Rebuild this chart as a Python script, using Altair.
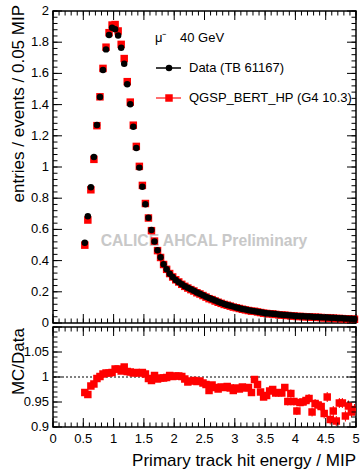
import altair as alt
import pandas as pd

# ---------------- data ----------------
bin_width = 0.05
first_center = 0.525

data_vals = [
    0.515, 0.684, 0.870, 1.064, 1.269, 1.449, 1.622, 1.754, 1.846, 1.893,
    1.883, 1.843, 1.765, 1.662, 1.530, 1.402, 1.258, 1.122, 0.996, 0.874,
    0.761, 0.675, 0.596, 0.523, 0.466, 0.421, 0.376, 0.344, 0.316, 0.295,
    0.276, 0.262, 0.248, 0.236, 0.226, 0.216, 0.206, 0.196, 0.187, 0.178,
    0.169, 0.160, 0.152, 0.144, 0.136, 0.129, 0.122, 0.116, 0.110, 0.105,
    0.100, 0.095, 0.090, 0.086, 0.082, 0.078, 0.075, 0.072, 0.069, 0.066,
    0.063, 0.061, 0.059, 0.057, 0.055, 0.053, 0.051, 0.050, 0.048, 0.047,
    0.045, 0.044, 0.043, 0.042, 0.041, 0.040, 0.039, 0.038, 0.037, 0.036,
    0.035, 0.034, 0.033, 0.032, 0.031, 0.030, 0.029, 0.028, 0.027, 0.026,
]

mc_vals = [
    0.499, 0.660, 0.854, 1.049, 1.265, 1.450, 1.632, 1.768, 1.861, 1.910,
    1.913, 1.872, 1.786, 1.695, 1.547, 1.416, 1.268, 1.132, 1.004, 0.882,
    0.766, 0.673, 0.592, 0.525, 0.464, 0.420, 0.375, 0.344, 0.317, 0.295,
    0.277, 0.263, 0.248, 0.235, 0.224, 0.214, 0.205, 0.194, 0.186, 0.176,
    0.166, 0.156, 0.150, 0.141, 0.133, 0.126, 0.119, 0.114, 0.108, 0.102,
    0.098, 0.093, 0.088, 0.084, 0.080, 0.076, 0.075, 0.071, 0.067, 0.063,
    0.061, 0.059, 0.058, 0.055, 0.053, 0.051, 0.050, 0.048, 0.046, 0.045,
    0.042, 0.042, 0.041, 0.040, 0.039, 0.037, 0.037, 0.036, 0.035, 0.033,
    0.034, 0.031, 0.031, 0.029, 0.029, 0.028, 0.027, 0.026, 0.025, 0.024,
]

ratio_vals = [
    0.969, 0.965, 0.982, 0.986, 0.997, 1.001, 1.006, 1.008, 1.008, 1.009,
    1.016, 1.016, 1.012, 1.020, 1.011, 1.010, 1.008, 1.009, 1.008, 1.009,
    1.006, 0.997, 0.993, 1.003, 0.996, 0.998, 0.998, 0.999, 1.003, 1.001,
    1.002, 1.002, 1.001, 0.996, 0.990, 0.992, 0.993, 0.991, 0.992, 0.988,
    0.985, 0.973, 0.984, 0.979, 0.976, 0.980, 0.979, 0.981, 0.978, 0.973,
    0.978, 0.976, 0.980, 0.978, 0.979, 0.969, 0.995, 0.985, 0.970, 0.960,
    0.963, 0.972, 0.975, 0.968, 0.969, 0.968, 0.979, 0.951, 0.967, 0.951,
    0.932, 0.949, 0.950, 0.953, 0.957, 0.930, 0.947, 0.944, 0.941, 0.927,
    0.960, 0.915, 0.932, 0.912, 0.948, 0.948, 0.922, 0.942, 0.930, 0.935,
]

ratio_err = [
    0.002, 0.002, 0.002, 0.002, 0.002, 0.002, 0.002, 0.002, 0.002, 0.002,
    0.002, 0.002, 0.002, 0.002, 0.002, 0.002, 0.002, 0.002, 0.002, 0.002,
    0.003, 0.003, 0.003, 0.003, 0.003, 0.003, 0.003, 0.003, 0.003, 0.003,
    0.004, 0.004, 0.004, 0.004, 0.004, 0.004, 0.004, 0.004, 0.004, 0.004,
    0.005, 0.005, 0.005, 0.005, 0.005, 0.005, 0.005, 0.005, 0.005, 0.005,
    0.006, 0.006, 0.006, 0.006, 0.006, 0.006, 0.006, 0.006, 0.006, 0.006,
    0.007, 0.007, 0.007, 0.007, 0.007, 0.007, 0.007, 0.008, 0.008, 0.008,
    0.008, 0.008, 0.008, 0.009, 0.009, 0.009, 0.009, 0.009, 0.009, 0.010,
    0.010, 0.010, 0.010, 0.010, 0.010, 0.010, 0.011, 0.011, 0.011, 0.011,
]

centers = [round(first_center + bin_width * i, 3) for i in range(len(data_vals))]

# tick / label values
x_labels = [0, 0.5, 1, 1.5, 2, 2.5, 3, 3.5, 4, 4.5, 5]
x_minor = [round(0.1 * i, 1) for i in range(51)]
y_top_labels = [0, 0.2, 0.4, 0.6, 0.8, 1, 1.2, 1.4, 1.6, 1.8, 2]
y_top_minor = [round(0.04 * i, 2) for i in range(51)]
y_bot_labels = [0.9, 0.95, 1, 1.05]
y_bot_major = [0.9, 0.95, 1, 1.05, 1.1]
y_bot_minor = [round(0.9 + 0.01 * i, 2) for i in range(21)]

# ---------------- layout ----------------
W, H1, H2 = 303, 312, 100
FONT = "Liberation Sans"
MAJ, MIN = 9, 4.5

df = pd.DataFrame({"x": centers, "data": data_vals, "mc": mc_vals,
                   "ratio": ratio_vals, "err": ratio_err})

xs = alt.Scale(domain=[0, 5], nice=False, zero=False)
ys1 = alt.Scale(domain=[0, 2], nice=False, zero=False)
ys2 = alt.Scale(domain=[0.9, 1.1], nice=False, zero=False)


def X(field):
    return alt.X(field, scale=xs, axis=None)


def Y(field, ys):
    return alt.Y(field, scale=ys, axis=None)


def x_ticks(vals, size, H):
    d = pd.DataFrame({"v": vals})
    base = alt.Chart(d).mark_rule(color="black", strokeWidth=1)
    bot = base.encode(x=X("v:Q"), y=alt.value(H), y2=alt.value(H - size))
    top = base.encode(x=X("v:Q"), y=alt.value(0), y2=alt.value(size))
    return [bot, top]


def y_ticks(vals, size, ys):
    d = pd.DataFrame({"v": vals})
    base = alt.Chart(d).mark_rule(color="black", strokeWidth=1)
    left = base.encode(y=Y("v:Q", ys), x=alt.value(0), x2=alt.value(size))
    right = base.encode(y=Y("v:Q", ys), x=alt.value(W), x2=alt.value(W - size))
    return [left, right]


def y_labels(vals, ys):
    d = pd.DataFrame({"v": vals, "t": [f"{v:g}" for v in vals]})
    return alt.Chart(d).mark_text(font=FONT, fontSize=13, color="black",
                                  align="right", baseline="middle").encode(
        y=Y("v:Q", ys), x=alt.value(-4), text="t:N")


def x_labels_layer(vals, H):
    d = pd.DataFrame({"v": vals, "t": [f"{v:g}" for v in vals]})
    return alt.Chart(d).mark_text(font=FONT, fontSize=13, color="black",
                                  align="center", baseline="top").encode(
        x=X("v:Q"), y=alt.value(H + 6), text="t:N")


one = pd.DataFrame({"k": [0]})


def txt(s, x, y, size=13, angle=0, align="left", color="black", weight="normal"):
    kw = dict(text=s, font=FONT, fontSize=size, align=align, baseline="middle",
              color=color, fontWeight=weight)
    if angle:
        kw["angle"] = angle
    return alt.Chart(one).mark_text(**kw).encode(x=alt.value(x), y=alt.value(y))


# ---------------- top panel ----------------
mc_pts = alt.Chart(df).mark_point(
    shape="square", filled=True, color="#ff0000", size=56, opacity=1
).encode(x=X("x:Q"), y=Y("mc:Q", ys1))

data_pts = alt.Chart(df).mark_circle(color="black", size=42, opacity=1).encode(
    x=X("x:Q"), y=Y("data:Q", ys1))

watermark = txt("CALICE AHCAL Preliminary", 151, 230, size=15.7, align="center",
                color="#c8c8c8", weight="bold")

leg_dline = alt.Chart(one).mark_rule(color="black", strokeWidth=1.5).encode(
    x=alt.value(103), x2=alt.value(128), y=alt.value(57))
leg_dpt = alt.Chart(one).mark_circle(color="black", size=42, opacity=1).encode(
    x=alt.value(116), y=alt.value(57))
leg_mline = alt.Chart(one).mark_rule(color="#ff4040", strokeWidth=1.5).encode(
    x=alt.value(103), x2=alt.value(128), y=alt.value(87))
leg_mpt = alt.Chart(one).mark_point(shape="square", filled=True, color="#ff0000",
                                    size=56, opacity=1).encode(
    x=alt.value(116), y=alt.value(87))

top_layers = [watermark, mc_pts, data_pts]
top_layers += x_ticks(x_labels, MAJ, H1) + x_ticks(x_minor, MIN, H1)
top_layers += y_ticks(y_top_labels, MAJ, ys1) + y_ticks(y_top_minor, MIN, ys1)
top_layers += [y_labels(y_top_labels, ys1),
               txt("entries / events / 0.05 MIP", -34, -6, size=17, angle=270,
                   align="right")]
top_layers += [txt("μ⁻", 102, 27), txt("40 GeV", 127, 27),
               leg_dline, leg_dpt, txt("Data (TB 61167)", 136, 57),
               leg_mline, leg_mpt, txt("QGSP_BERT_HP (G4 10.3)", 136, 87)]

top = alt.layer(*top_layers).properties(width=W, height=H1)

# ---------------- bottom panel ----------------
unity = alt.Chart(pd.DataFrame({"v": [1.0]})).mark_rule(
    color="black", strokeWidth=1, strokeDash=[2, 2]
).encode(y=Y("v:Q", ys2))

errbars = alt.Chart(df).transform_calculate(
    lo="datum.ratio - datum.err", hi="datum.ratio + datum.err"
).mark_rule(color="#ff0000", strokeWidth=1, clip=True).encode(
    x=X("x:Q"), y=Y("lo:Q", ys2), y2="hi:Q")

ratio_pts = alt.Chart(df).mark_point(
    shape="square", filled=True, color="#ff0000", size=56, opacity=1, clip=True
).encode(x=X("x:Q"), y=Y("ratio:Q", ys2))

bot_layers = [unity, errbars, ratio_pts]
bot_layers += x_ticks(x_labels, MAJ, H2) + x_ticks(x_minor, MIN, H2)
bot_layers += y_ticks(y_bot_major, MAJ, ys2) + y_ticks(y_bot_minor, MIN, ys2)
bot_layers += [y_labels(y_bot_labels, ys2), x_labels_layer(x_labels, H2),
               txt("MC/Data", -34, 1, size=17, angle=270, align="right"),
               txt("Primary track hit energy / MIP", W, H2 + 34, size=17,
                   align="right")]

bottom = alt.layer(*bot_layers).properties(width=W, height=H2)

chart = alt.vconcat(top, bottom, spacing=4, bounds="flush").properties(
    padding={"left": 9, "top": 4, "right": 0, "bottom": 0},
    background="white",
).configure_view(stroke="black", strokeWidth=1.5)

chart.save("out.html", embed_options={"renderer": "svg", "actions": False})
